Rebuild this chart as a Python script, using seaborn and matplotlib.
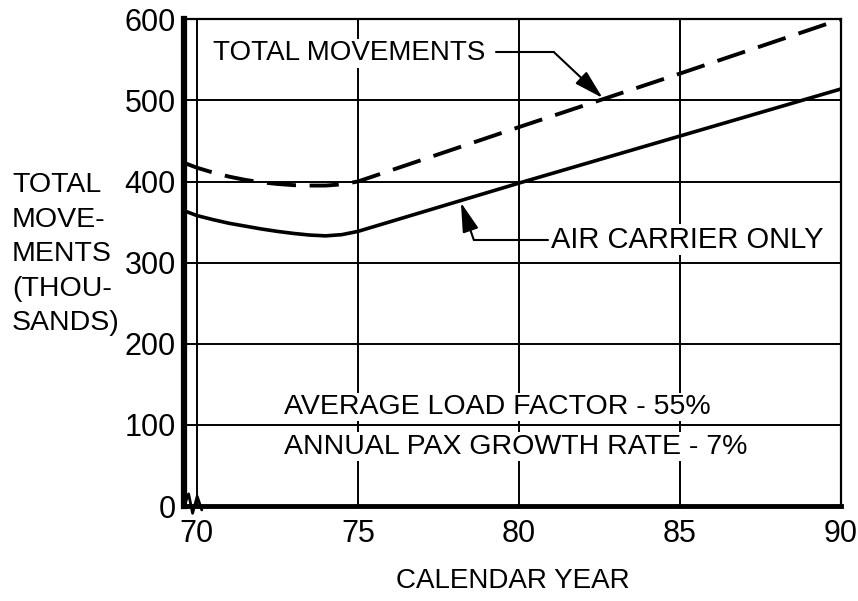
import matplotlib
matplotlib.use("Agg")
import matplotlib.pyplot as plt
import seaborn as sns

# values (thousands of movements)
years = [69.6, 70, 70.5, 71, 71.5, 72, 72.5, 73, 73.5, 74, 74.5, 75, 80, 85, 90]
total_movements = [423, 417, 411, 406, 402, 399, 397, 395.5, 395, 395, 396.5, 400, 467, 533, 600]
air_carrier = [364, 358, 353, 348.5, 345, 341.5, 338.5, 336, 334, 333, 334.5, 338.5, 398, 456, 514]

x_ticks = [70, 75, 80, 85, 90]
y_ticks = [0, 100, 200, 300, 400, 500, 600]

sns.set_theme(style="white")
plt.rcParams['font.family'] = ['Liberation Sans', 'DejaVu Sans']
plt.rcParams['text.color'] = "black"
plt.rcParams['axes.labelcolor'] = "black"

fig = plt.figure(figsize=(8.58, 6.01), dpi=100)
ax = fig.add_axes([0.2145, 0.158, 0.7655, 0.810])

sns.lineplot(x=years, y=total_movements, ax=ax, color="black", lw=2.8, zorder=4)
ax.lines[-1].set_dashes((7.5, 3.5))
sns.lineplot(x=years, y=air_carrier, ax=ax, color="black", lw=2.6, zorder=4)

ax.set_xlim(69.6, 90)
ax.set_ylim(0, 600)
ax.set_xticks(x_ticks)
ax.set_yticks(y_ticks)
ax.grid(True, color="black", lw=1.4)
ax.set_axisbelow(True)
ax.tick_params(length=0, labelsize=22, colors="black")
ax.tick_params(axis="y", pad=6)
ax.tick_params(axis="x", pad=9)

for side, w in [("left", 4.5), ("bottom", 3.5), ("top", 1.6), ("right", 1.6)]:
    ax.spines[side].set_visible(True)
    ax.spines[side].set_linewidth(w)
    ax.spines[side].set_color("black")

ax.set_xlabel("CALENDAR YEAR", fontsize=20, labelpad=14)
ax.set_ylabel("")

fig.text(0.014, 0.577, "TOTAL\nMOVE-\nMENTS\n(THOU-\nSANDS)", fontsize=20.5,
         ha="left", va="center", linespacing=1.42)

# axis break mark
ax.plot([0.0, 0.007, 0.013, 0.02, 0.027], [0.0, 0.025, -0.015, 0.02, -0.008],
        transform=ax.transAxes, color="black", lw=2, clip_on=False, zorder=6)

arrow = dict(arrowstyle="-|>,head_length=0.9,head_width=0.25", color="black",
             lw=1.5, mutation_scale=20, shrinkA=0, shrinkB=0)
box = dict(facecolor="white", edgecolor="none", pad=1)

ax.text(70.5, 558, "TOTAL MOVEMENTS", fontsize=20, ha="left", va="center",
        bbox=box, zorder=5)
ax.plot([79.3, 81.1], [559, 559], color="black", lw=1.5, zorder=5)
ax.annotate("", xy=(82.6, 503), xytext=(81.1, 559), arrowprops=arrow, zorder=5)

ax.text(81.0, 328, "AIR CARRIER ONLY", fontsize=21, ha="left", va="center",
        bbox=box, zorder=5)
ax.plot([78.6, 80.9], [328, 328], color="black", lw=1.5, zorder=5)
ax.annotate("", xy=(78.2, 374), xytext=(78.6, 328), arrowprops=arrow, zorder=5)

ax.text(72.7, 122, "AVERAGE LOAD FACTOR - 55%", fontsize=20.5, ha="left",
        va="center", bbox=box, zorder=5)
ax.text(72.7, 73, "ANNUAL PAX GROWTH RATE - 7%", fontsize=20.5, ha="left",
        va="center", bbox=box, zorder=5)

fig.savefig("out.png", dpi=100)
